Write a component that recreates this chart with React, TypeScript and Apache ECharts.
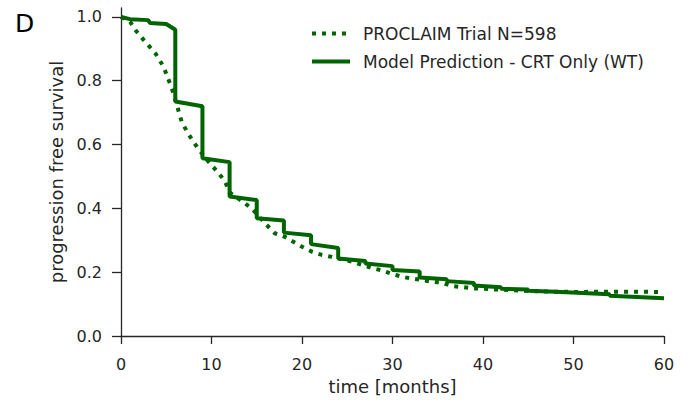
import React, { useEffect, useRef } from "react";
import * as echarts from "echarts";

const trialName = "PROCLAIM Trial N=598";
const modelName = "Model Prediction - CRT Only (WT)";

const trialTime = [0, 1, 1.7, 2.5, 3.8, 4.7, 5.4, 5.8, 6.7, 7.4, 8.5, 9.5, 10.8, 11.5, 12, 13.7, 14.6, 16.1, 17, 18.1, 19, 20, 21.1, 22.2, 23.3, 25.5, 26.6, 27.7, 28.8, 29.9, 31, 32.1, 33.2, 34.4, 35.5, 36.5, 37.8, 38.9, 40, 41.1, 42.2, 43.5, 46, 50, 55, 60];
const trialSurv = [1.0, 0.985, 0.955, 0.928, 0.886, 0.844, 0.792, 0.761, 0.672, 0.635, 0.588, 0.552, 0.51, 0.484, 0.45, 0.416, 0.395, 0.348, 0.322, 0.311, 0.296, 0.28, 0.264, 0.254, 0.248, 0.233, 0.223, 0.213, 0.206, 0.195, 0.186, 0.18, 0.176, 0.17, 0.167, 0.157, 0.153, 0.149, 0.148, 0.146, 0.145, 0.143, 0.14, 0.138, 0.139, 0.138];

const modelTime = [0, 1, 3, 3.2, 5, 6, 6, 9, 9, 12, 12, 15, 15, 18, 18, 21, 21, 24, 24, 27, 27, 30, 30, 33, 33, 36, 36, 39, 39, 42, 42, 45, 45, 48, 48, 51, 51, 54, 54, 57, 60];
const modelSurv = [1.0, 0.993, 0.99, 0.981, 0.978, 0.96, 0.735, 0.72, 0.557, 0.545, 0.437, 0.426, 0.369, 0.362, 0.324, 0.316, 0.288, 0.276, 0.243, 0.235, 0.227, 0.219, 0.207, 0.202, 0.183, 0.178, 0.172, 0.166, 0.158, 0.153, 0.148, 0.146, 0.142, 0.139, 0.137, 0.135, 0.133, 0.131, 0.126, 0.122, 0.118];

const yTicks = [0, 0.2, 0.4, 0.6, 0.8, 1.0];
const panelLabel = "D";
const xAxisName = "time [months]";
const yAxisName = "progression free survival";

const GREEN = "#006400";
const INK = "#262626";
const FONT = "DejaVu Sans";

export default function App() {
  const ref = useRef<HTMLDivElement>(null);
  useEffect(() => {
    if (!ref.current) return;
    const chart = echarts.init(ref.current, undefined, { renderer: "svg" });
    chart.setOption({
      animation: false,
      backgroundColor: "#ffffff",
      textStyle: { fontFamily: FONT, color: INK },
      grid: { left: 121, right: 26, top: 8, bottom: 74 },
      graphic: [
        {
          type: "text",
          left: 15,
          top: 11,
          style: { text: panelLabel, font: `25px ${FONT}`, fill: "#000" },
        },
      ],
      legend: {
        orient: "vertical",
        left: 305,
        top: 20,
        itemWidth: 38,
        itemHeight: 14,
        itemGap: 11,
        itemStyle: { opacity: 0 },
        lineStyle: { width: 4 },
        textStyle: { fontFamily: FONT, fontSize: 17, color: INK, padding: [0, 0, 0, 8] },
        data: [trialName, modelName],
      },
      xAxis: {
        type: "value",
        min: 0,
        max: 60,
        interval: 10,
        name: xAxisName,
        nameLocation: "middle",
        nameGap: 41,
        nameTextStyle: { fontFamily: FONT, fontSize: 18, color: INK },
        axisLine: { show: true, onZero: false, lineStyle: { color: INK, width: 1.3 } },
        axisTick: { show: true, length: 8, lineStyle: { color: INK, width: 1.3 } },
        axisLabel: { fontFamily: FONT, fontSize: 16, color: INK, margin: 20 },
        splitLine: { show: false },
      },
      yAxis: {
        type: "value",
        min: 0,
        max: 1.028,
        name: yAxisName,
        nameLocation: "middle",
        nameGap: 55,
        nameTextStyle: { fontFamily: FONT, fontSize: 18, color: INK },
        axisLine: { show: true, onZero: false, lineStyle: { color: INK, width: 1.3 } },
        axisTick: { show: true, length: 9, customValues: yTicks, lineStyle: { color: INK, width: 1.3 } },
        axisLabel: {
          fontFamily: FONT,
          fontSize: 16,
          color: INK,
          margin: 19,
          customValues: yTicks,
          formatter: (v: number) => v.toFixed(1),
        },
        splitLine: { show: false },
      },
      series: [
        {
          name: trialName,
          type: "line",
          data: trialTime.map((t, i) => [t, trialSurv[i]]),
          symbol: "none",
          showSymbol: false,
          lineStyle: { color: GREEN, width: 4, type: [4, 6], cap: "butt" },
          itemStyle: { color: GREEN },
          z: 2,
        },
        {
          name: modelName,
          type: "line",
          data: modelTime.map((t, i) => [t, modelSurv[i]]),
          symbol: "none",
          showSymbol: false,
          lineStyle: { color: GREEN, width: 4 },
          itemStyle: { color: GREEN },
          z: 3,
        },
      ],
    });
    return () => chart.dispose();
  }, []);
  return (
    <div
      ref={ref}
      style={{ position: "fixed", left: 0, top: 0, width: 690, height: 410, background: "#fff" }}
    />
  );
}
